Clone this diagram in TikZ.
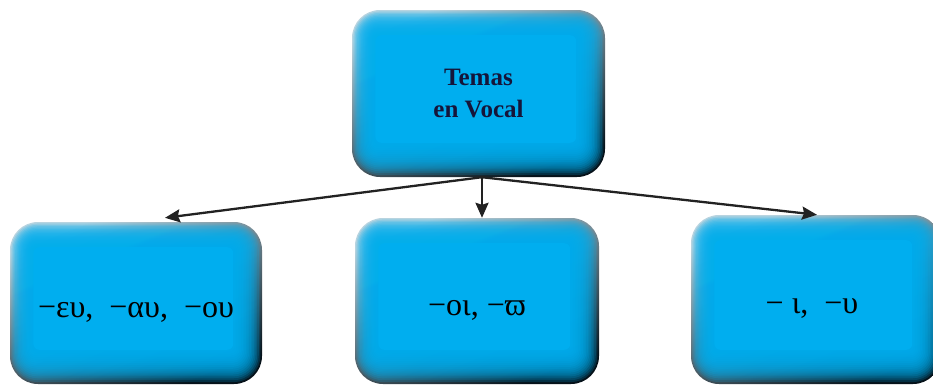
\documentclass[tikz,border=0pt]{standalone}
\usepackage{fontspec}
\setmainfont{Liberation Serif}
\usetikzlibrary{arrows.meta}
\definecolor{cyanbox}{HTML}{00AEEF}
\definecolor{bevlight}{HTML}{B8D4E0}
\definecolor{bevdark}{HTML}{06121A}
\definecolor{txtnavy}{HTML}{15153A}
\definecolor{arrgray}{HTML}{222222}
\newcommand\bevbox[7]{% name, x1, y1, x2, y2, font, text
  \shade[rounded corners=28pt, shading=axis, top color=bevlight, bottom color=bevdark, shading angle=22] (#2,#3) rectangle (#4,#5);
  \foreach \k in {1,...,17}{
    \pgfmathsetmacro\rr{max(28-1.4*\k,6)}
    \fill[cyanbox, opacity=0.19, rounded corners=\rr pt] (#2+1.3*\k, #3+1.4*\k) rectangle (#4-1.6*\k, #5-1.9*\k);
  }
  \fill[cyanbox, rounded corners=6pt] (#2+1.3*18, #3+1.4*18) rectangle (#4-1.6*18, #5-1.9*18);
  \node[boxtext, font=#6, minimum width=#4pt-#2pt, minimum height=#5pt-#3pt] (#1) at ({(#2+#4)/2},{(#3+#5)/2}) {#7};
}
\tikzset{
  boxtext/.style={rectangle, inner sep=0pt, align=center},
  arr/.style={draw=arrgray, line width=2.3pt, -{Stealth[length=15pt,width=13pt,inset=2pt]}},
}
\begin{document}
\begin{tikzpicture}[x=1pt, y=-1pt]
\useasboundingbox (0,0) rectangle (933,386);
\bevbox{top}{352}{10}{605}{177}{\fontsize{25}{32}\selectfont\bfseries\color{txtnavy}}{Temas\\en Vocal}
\bevbox{left}{10}{222}{262}{384}{\fontsize{32}{34}\selectfont\color{black}}{\raisebox{-14pt}[0pt][0pt]{−ευ,~ −αυ,~ −ου}}
\bevbox{mid}{355}{218}{599}{384}{\fontsize{32}{34}\selectfont\color{black}}{\raisebox{-14pt}[0pt][0pt]{−οι, −ϖ}}
\bevbox{right}{691}{215}{941}{384}{\fontsize{32}{34}\selectfont\color{black}}{\hspace*{-8pt}\raisebox{-13.5pt}[0pt][0pt]{− ι,~ −υ}}
\coordinate (j) at ([xshift=3.5pt]top.south);
\draw[arr] (j) -- ([xshift=29pt,yshift=4pt]left.north);
\draw[arr] (j) -- ([xshift=5pt,yshift=0pt]mid.north);
\draw[arr] (j) -- ([xshift=1pt,yshift=0pt]right.north);
\end{tikzpicture}
\end{document}
